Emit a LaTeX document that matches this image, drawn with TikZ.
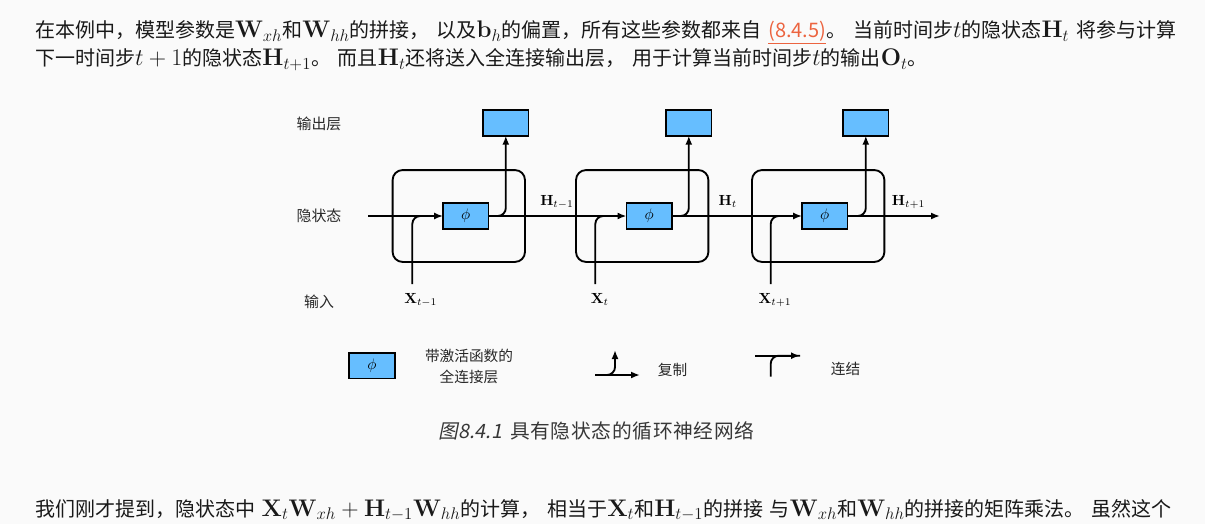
\RequirePackage{fix-cm}
\documentclass[tikz,border=0pt]{standalone}
\usepackage[no-math]{fontspec}
\setmainfont[WordSpace=1.5]{Noto Sans CJK SC}
\newfontfamily\capfont[LetterSpace=3.5]{Noto Sans CJK SC}
\newfontfamily\capslant[FakeSlant=0.2]{Noto Sans CJK SC}
\usetikzlibrary{arrows.meta}

\definecolor{pagebg}{RGB}{250,250,250}
\definecolor{fcblue}{RGB}{102,190,255}
\definecolor{linkcol}{RGB}{236,100,64}
\definecolor{bodycol}{RGB}{25,25,25}
\definecolor{capcol}{RGB}{55,55,55}
\definecolor{labelcol}{RGB}{40,40,40}

% inline formulas are set a little larger than the surrounding text
\newcommand{\fm}[1]{{\fontsize{18pt}{18pt}\selectfont$#1$}}

\tikzset{
  bodytext/.style={inner sep=0pt, outer sep=0pt, text=bodycol,
    font=\fontsize{15pt}{17pt}\selectfont},
  wire/.style={line width=1.4pt},
  arr/.style={line width=1.4pt, -{Latex[length=6.75pt,width=5.25pt]}},
  fcbox/.style={draw, line width=1.4pt, fill=fcblue, minimum width=34pt,
    minimum height=19pt, inner sep=0pt, outer sep=0pt,
    font=\fontsize{11.5pt}{13pt}\selectfont},
  cellbox/.style={draw, line width=1.4pt, rounded corners=7.5pt,
    minimum width=99.3pt, minimum height=68.9pt, inner sep=0pt},
  rowlabel/.style={inner sep=0pt, text=labelcol,
    font=\fontsize{11.2pt}{13pt}\selectfont},
  statelabel/.style={inner sep=0pt, anchor=base west,
    font=\fontsize{11pt}{13pt}\selectfont},
  legendtext/.style={inner sep=0pt, text=labelcol, align=center,
    font=\fontsize{11pt}{15.4pt}\selectfont},
}

\begin{document}
\begin{tikzpicture}[x=0.75pt,y=-0.75pt]
  \fill[pagebg] (0,0) rectangle (1205,524);
  \useasboundingbox (0,0) rectangle (1205,524);

  % paragraph above the figure
  \node[bodytext, anchor=base west] (para1) at (35,37.5) {在本例中，模型参数是\fm{\mathbf{W}_{xh}}和\fm{\mathbf{W}_{hh}}的拼接， 以及\fm{\mathbf{b}_h}的偏置，所有这些参数都来自 {\color{linkcol}\underline{(8.4.5)}}。 当前时间步\fm{t}的隐状态\fm{\mathbf{H}_t} 将参与计算};
  \node[bodytext, anchor=base west] (para2) at (35,65.5) {下一时间步\fm{t+1}的隐状态\fm{\mathbf{H}_{t+1}}。 而且\fm{\mathbf{H}_t}还将送入全连接输出层， 用于计算当前时间步\fm{t}的输出\fm{\mathbf{O}_t}。};

  % row labels
  \node[rowlabel] (lblout) at (319,124) {输出层};
  \node[rowlabel] (lblhid) at (319,216) {隐状态};
  \node[rowlabel] (lblin)  at (319,302) {输入};

  % recurrent cells
  \node[cellbox] (cell1) at (458.8,216) {};
  \node[cellbox] (cell2) at (642.2,216) {};
  \node[cellbox] (cell3) at (818.2,216) {};

  % free ends of the connectors
  \coordinate (hin)  at (368,216);
  \coordinate (hout) at (940,216);
  \coordinate (xin1) at (412.3,284);
  \coordinate (xin2) at (595.3,284);
  \coordinate (xin3) at (770.7,284);

  % fully connected layers with activation, and output layers
  \node[fcbox] (phi1) at (465.8,216) {};
  \node[fcbox] (phi2) at (649.2,216) {};
  \node[fcbox] (phi3) at (824.8,216) {};
  \node[fcbox] (out1) at (505.8,123) {};
  \node[fcbox] (out2) at (688.8,123) {};
  \node[fcbox] (out3) at (865.8,123) {};

  % concatenation of input and previous hidden state
  \foreach \k in {1,2,3} {
    \path (xin\k |- phi\k.west) ++(16,0) coordinate (cj\k);
    \draw[wire, rounded corners=6pt] (xin\k) |- (cj\k);
  }

  % hidden state chain
  \draw[arr] (hin) -- (phi1.west);
  \draw[arr] (phi1.east) -- (phi2.west);
  \draw[arr] (phi2.east) -- (phi3.west);
  \draw[arr] (phi3.east) -- (hout);

  % copies to the output layers
  \foreach \k in {1,2,3}
    \draw[arr, rounded corners=6pt] (phi\k.east) -| (out\k.south);

  % redraw boxes on top of the wires
  \foreach \k in {1,2,3} {
    \node[fcbox] at (phi\k) {$\phi$};
  }

  % state and input labels
  \node[statelabel] (h1) at (540,205) {$\mathbf{H}_{t-1}$};
  \node[statelabel] (h2) at (718.3,205) {$\mathbf{H}_{t}$};
  \node[statelabel] (h3) at (891.7,205) {$\mathbf{H}_{t+1}$};
  \node[statelabel] (x1) at (404,303.3) {$\mathbf{X}_{t-1}$};
  \node[statelabel] (x2) at (590.7,303.3) {$\mathbf{X}_{t}$};
  \node[statelabel] (x3) at (758.3,303.3) {$\mathbf{X}_{t+1}$};

  % legend
  \node[fcbox] (legphi) at (372,365.8) {$\phi$};
  \node[legendtext] (legfc) at (469,366.7) {带激活函数的\\全连接层};

  \coordinate (cpL) at (595,375);
  \coordinate (cpR) at (640,375);
  \coordinate (cpT) at (615,350);
  \draw[arr] (cpL) -- (cpR);
  \draw[arr, rounded corners=6pt] (cpL) -| (cpT);
  \node[legendtext] (legcp) at (672.5,370) {复制};

  \coordinate (ccB) at (770.7,376.7);
  \coordinate (ccL) at (755,355.7);
  \coordinate (ccR) at (800,355.7);
  \draw[arr] (ccL) -- (ccR);
  \draw[wire, rounded corners=6pt] (ccB) |- (ccR);
  \node[legendtext] (legcc) at (845.5,369.3) {连结};

  % caption
  \node[inner sep=0pt, anchor=base west, text=capcol,
        font=\fontsize{14.8pt}{17pt}\selectfont] (caption) at (438.3,438.6)
        {{\capslant 图8.4.1}\hspace{6pt}{\capfont 具有隐状态的循环神经网络}};

  % paragraph below the figure
  \node[bodytext, anchor=base west] (para3) at (35,516) {我们刚才提到，隐状态中 \fm{\mathbf{X}_t\mathbf{W}_{xh}+\mathbf{H}_{t-1}\mathbf{W}_{hh}}的计算， 相当于\fm{\mathbf{X}_t}和\fm{\mathbf{H}_{t-1}}的拼接 与\fm{\mathbf{W}_{xh}}和\fm{\mathbf{W}_{hh}}的拼接的矩阵乘法。 虽然这个};
\end{tikzpicture}
\end{document}
